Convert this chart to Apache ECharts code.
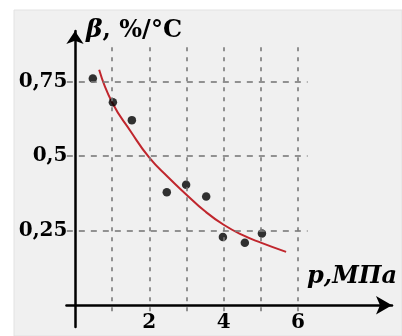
<!DOCTYPE html>
<html>
<head>
<meta charset="utf-8">
<script src="https://cdn.jsdelivr.net/npm/echarts@6/dist/echarts.min.js"></script>
<style>
html,body{margin:0;padding:0;background:#ffffff;}
#chart{width:402px;height:336px;}
</style>
</head>
<body>
<div id="chart"></div>
<script>
// measured points (p, MPa ; beta, %/°C)
var pointP    = [0.48, 1.02, 1.53, 2.47, 2.99, 3.53, 3.98, 4.57, 5.03];
var pointBeta = [0.761, 0.681, 0.621, 0.379, 0.404, 0.365, 0.229, 0.210, 0.241];
// fitted curve
var curveP    = [0.65, 1.0, 1.5, 2.0, 2.5, 3.0, 3.5, 4.0, 4.5, 5.0, 5.68];
var curveBeta = [0.79, 0.68, 0.583, 0.495, 0.43, 0.371, 0.315, 0.27, 0.236, 0.21, 0.179];
// ticks / grid values
var xGridValues  = [1, 2, 3, 4, 5, 6];
var xLabelValues = [2, 4, 6];
var yGridValues  = [0.25, 0.5, 0.75];
var yTickLabels  = ['0,25', '0,5', '0,75'];
var xName = 'p,MПа';
var yNameSymbol = 'β';
var yNameUnit = ', %/°C';

var gridLeftX = -0.22, gridRightX = 6.26, gridBottomY = -0.02, gridTopY = 0.88;

var chart = echarts.init(document.getElementById('chart'), null, {renderer: 'canvas'});

var gridLines = [];
xGridValues.forEach(function (v) {
  gridLines.push([{coord: [v, gridBottomY], lineStyle: {type: [4, 6]}}, {coord: [v, gridTopY]}]);
});
yGridValues.forEach(function (v) {
  gridLines.push([{coord: [gridLeftX, v], lineStyle: {type: [6, 6]}}, {coord: [gridRightX, v]}]);
});

var serifFont = '"DejaVu Serif", serif';

chart.setOption({
  backgroundColor: '#ffffff',
  animation: false,
  graphic: [
    {type: 'rect', z: -10, shape: {x: 14, y: 10, width: 388, height: 326}, style: {fill: '#f0f0f0', stroke: '#e2e2e2', lineWidth: 1}},
    {type: 'text', z: 10, left: 86, top: 18, style: {
      text: '{i|' + yNameSymbol + '}{n|' + yNameUnit + '}',
      rich: {
        i: {font: 'italic bold 25px ' + serifFont, fill: '#000'},
        n: {font: 'bold 24px ' + serifFont, fill: '#000'}
      }
    }},
    {type: 'text', z: 10, left: 307, top: 265, style: {
      text: xName, font: 'italic bold 24px ' + serifFont, fill: '#000'
    }}
  ],
  grid: {left: 66.45, right: 10, top: 31, bottom: 9, containLabel: false, outerBoundsMode: 'none'},
  xAxis: {
    type: 'value', min: -0.23, max: 8.53,
    axisLine: {show: true, onZero: true, lineStyle: {color: '#000', width: 2.5},
      symbol: ['none', 'arrow'], symbolSize: [14, 16]},
    axisTick: {show: false},
    splitLine: {show: false},
    axisLabel: {
      customValues: xLabelValues,
      color: '#000', fontFamily: serifFont, fontWeight: 'bold', fontSize: 20, margin: -14,
      formatter: function (v) { return String(v); }
    }
  },
  yAxis: {
    type: 'value', min: -0.073, max: 0.92,
    axisLine: {show: true, onZero: true, lineStyle: {color: '#000', width: 2.5},
      symbol: ['none', 'arrow'], symbolSize: [13, 13]},
    axisTick: {show: false},
    splitLine: {show: false},
    axisLabel: {
      customValues: yGridValues,
      color: '#000', fontFamily: serifFont, fontWeight: 'bold', fontSize: 20, margin: -1,
      formatter: function (v) {
        var i = yGridValues.indexOf(Math.round(v * 100) / 100);
        return i >= 0 ? yTickLabels[i] : '';
      }
    }
  },
  series: [
    {
      type: 'line', data: [], z: 1, silent: true,
      markLine: {silent: true, symbol: ['none', 'none'], label: {show: false},
        lineStyle: {color: '#7a7a7a', width: 1.6, type: 'dashed'},
        emphasis: {disabled: true},
        data: gridLines}
    },
    {
      type: 'line', z: 3, smooth: 0.5, showSymbol: false, silent: true,
      lineStyle: {color: '#c0262d', width: 2},
      data: curveP.map(function (p, i) { return [p, curveBeta[i]]; })
    },
    {
      type: 'scatter', z: 4, symbol: 'circle', symbolSize: 8.5, silent: true,
      itemStyle: {color: '#000'},
      data: pointP.map(function (p, i) { return [p, pointBeta[i]]; })
    }
  ]
});
</script>
</body>
</html>
